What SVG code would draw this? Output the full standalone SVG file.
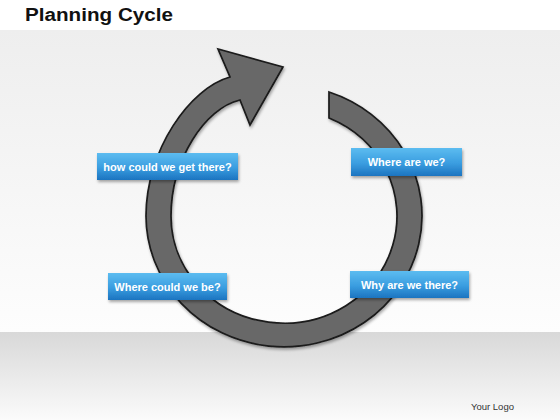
<svg xmlns="http://www.w3.org/2000/svg" width="560" height="420" viewBox="0 0 560 420">
  <defs>
    <linearGradient id="bgTop" x1="0" y1="0" x2="0" y2="1">
      <stop offset="0" stop-color="#eeeeee"/>
      <stop offset="1" stop-color="#fdfdfd"/>
    </linearGradient>
    <linearGradient id="bgBottom" x1="0" y1="0" x2="0" y2="1">
      <stop offset="0" stop-color="#d8d8d8"/>
      <stop offset="1" stop-color="#fbfbfb"/>
    </linearGradient>
    <linearGradient id="boxFill" x1="0" y1="0" x2="0" y2="1">
      <stop offset="0" stop-color="#5cbcf0"/>
      <stop offset="0.55" stop-color="#3a9de0"/>
      <stop offset="1" stop-color="#1c74c0"/>
    </linearGradient>
    <filter id="shadow" x="-10%" y="-10%" width="130%" height="130%">
      <feGaussianBlur in="SourceAlpha" stdDeviation="1.5"/>
      <feOffset dx="1" dy="1.5" result="b"/>
      <feComponentTransfer><feFuncA type="linear" slope="0.35"/></feComponentTransfer>
      <feMerge><feMergeNode/><feMergeNode in="SourceGraphic"/></feMerge>
    </filter>
    <style>
      .title { font-family: "Liberation Sans", Arial, sans-serif; font-weight: bold; font-size: 18px; fill: #111; }
      .logo { font-family: "Liberation Sans", Arial, sans-serif; font-size: 9.5px; fill: #333; }
      .box { fill: url(#boxFill); filter: url(#shadow); }
      .lbl { font-family: "Liberation Sans", Arial, sans-serif; font-weight: bold; font-size: 11px; fill: #ffffff; text-anchor: middle; }
      .ring { fill: #686868; stroke: #1a1a1a; stroke-width: 1.7; stroke-linejoin: miter; filter: url(#shadow); }
    </style>
  </defs>

  <rect x="0" y="0" width="560" height="420" fill="#ffffff"/>
  <rect x="0" y="30" width="560" height="302" fill="url(#bgTop)"/>
  <rect x="0" y="332" width="560" height="88" fill="url(#bgBottom)"/>

  <text class="title" x="25" y="21" textLength="148" lengthAdjust="spacingAndGlyphs">Planning Cycle</text>
  <text class="logo" x="471" y="410">Your Logo</text>

  <g id="connectors">
    <path class="ring" d="M 329,92 A 138 131 0 1 1 146,216 C 146,150 190,88 230,77 L 218,49 L 283,67 L 250,125 L 240,100 C 205,108 171,160 171,216 A 113 107 0 1 0 329,118 Z"/>
  </g>

  <g id="node-get-there">
    <rect class="box" x="97" y="153" width="141" height="27"/>
    <text class="lbl" x="167.5" y="171">how could we get there?</text>
  </g>
  <g id="node-where-are-we">
    <rect class="box" x="351" y="148" width="111" height="28"/>
    <text class="lbl" x="406.5" y="166">Where are we?</text>
  </g>
  <g id="node-where-could">
    <rect class="box" x="108" y="273" width="119" height="27"/>
    <text class="lbl" x="167.5" y="291">Where could  we be?</text>
  </g>
  <g id="node-why">
    <rect class="box" x="350" y="271" width="119" height="27"/>
    <text class="lbl" x="409.5" y="289">Why are we there?</text>
  </g>
</svg>
